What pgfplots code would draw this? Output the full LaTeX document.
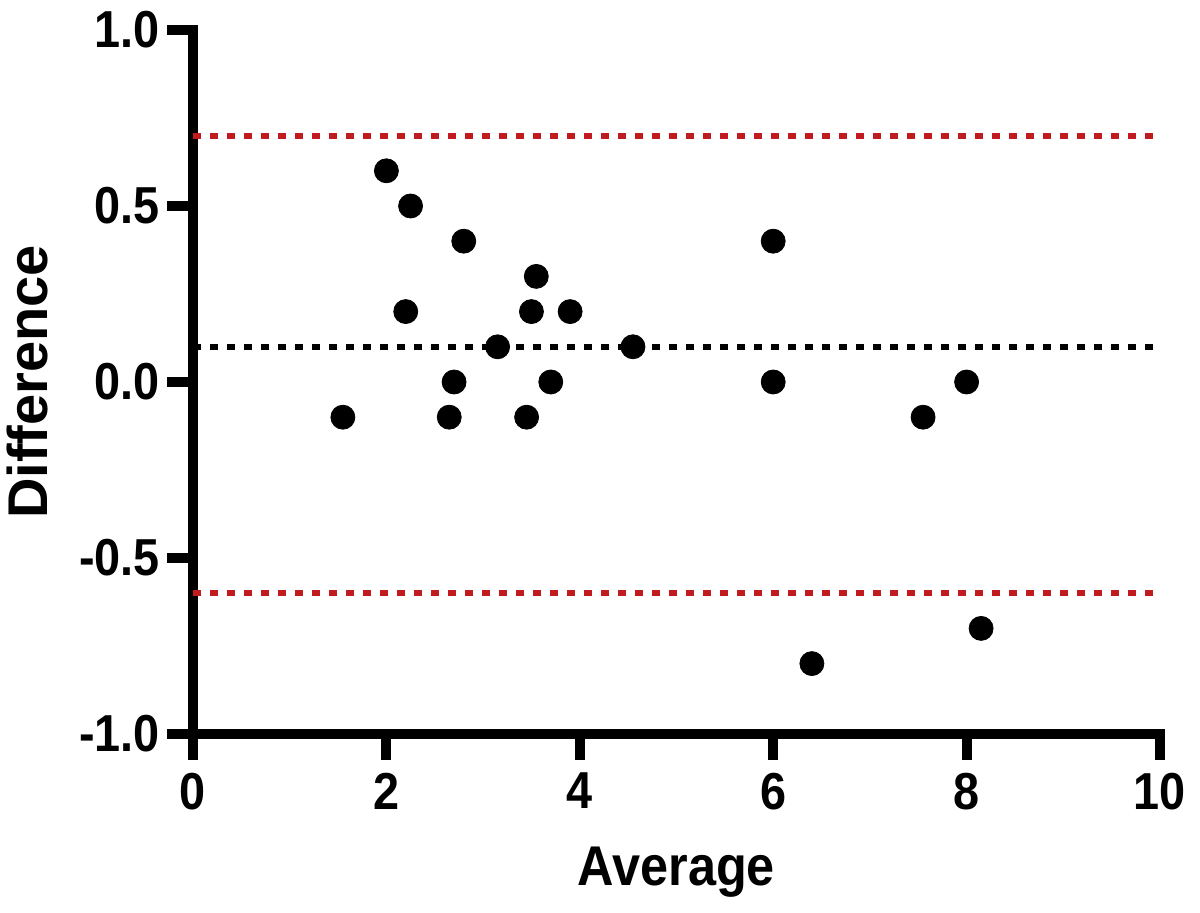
\documentclass[border=0pt]{standalone}
\usepackage{fontspec}
\setmainfont{Liberation Sans}
\newfontfamily\sqfont{Liberation Sans}[FakeStretch=0.9]
\usepackage{pgfplots}
\pgfplotsset{compat=1.18}
\definecolor{limred}{RGB}{192,28,32}
\begin{document}
\begin{tikzpicture}
\begin{axis}[
  at={(0,0)}, anchor=south west,
  scale only axis,
  width=483.5pt, height=352pt,
  xmin=0, xmax=10, ymin=-1, ymax=1,
  axis lines*=left,
  axis line style={line width=5pt, line cap=rect},
  xtick={0,2,4,6,8,10},
  ytick={-1,-0.5,0,0.5,1},
  tick align=outside,
  major tick length=13pt,
  every tick/.style={black, line width=5pt},
  /pgf/number format/assume math mode=true,
  /pgf/number format/.cd, fixed, fixed zerofill, precision=1, /pgfplots/.cd,
  xticklabel style={font=\sqfont\bfseries\fontsize{26}{26}\selectfont, yshift=-3pt},
  yticklabel style={font=\sqfont\bfseries\fontsize{26}{26}\selectfont},
  xticklabel={\pgfmathprintnumber[fixed,precision=0]{\tick}},
  clip=false,
]
\addplot[limred, line width=3pt, dash pattern=on 4pt off 4.5pt] coordinates {(0,0.7) (10,0.7)};
\addplot[limred, line width=3pt, dash pattern=on 4pt off 4.5pt] coordinates {(0,-0.6) (10,-0.6)};
\addplot[black, line width=3pt, dash pattern=on 4pt off 4.5pt] coordinates {(0,0.1) (10,0.1)};
\addplot[only marks, mark=*, mark size=6pt, black] coordinates {
(1.55,-0.1) (2.0,0.6) (2.25,0.5) (2.2,0.2) (2.8,0.4) (2.65,-0.1) (2.7,0.0)
(3.15,0.1) (3.45,-0.1) (3.5,0.2) (3.55,0.3) (3.7,0.0) (3.9,0.2) (4.55,0.1)
(6.0,0.4) (6.0,0.0) (6.4,-0.8) (7.55,-0.1) (8.0,0.0) (8.15,-0.7)
};
\end{axis}
\node[font=\sqfont\bfseries\fontsize{28}{28}\selectfont, anchor=base] at (241.75pt,-76pt) {Average};
\node[font=\bfseries\fontsize{28}{28}\selectfont, rotate=90, anchor=center] at (-83pt,176pt) {Difference};
\pgfresetboundingbox
\path[use as bounding box] (-96.5pt,-89.5pt) rectangle (503.5pt,367pt);
\end{tikzpicture}
\end{document}
